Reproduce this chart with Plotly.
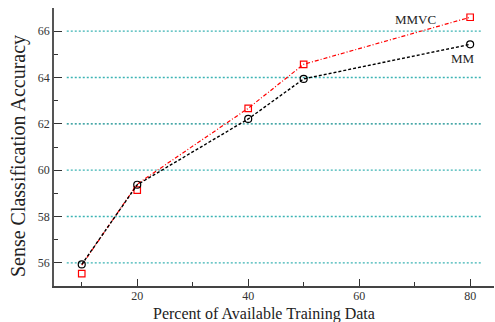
import plotly.graph_objects as go

x_pct = [10, 20, 40, 50, 80]
mmvc_marks = [55.53, 59.14, 62.67, 64.57, 66.6]
mmvc_line = [55.9, 59.4, 62.67, 64.57, 66.6]
mm_vals = [55.93, 59.37, 62.21, 63.94, 65.43]
grid_levels = [56, 58, 60, 62, 64, 66]
y_ticks = [56, 58, 60, 62, 64, 66]
x_ticks = [20, 40, 60, 80]

serif = "Liberation Serif, Times New Roman, serif"

fig = go.Figure()

for g in grid_levels:
    fig.add_shape(type="line", xref="x", yref="y", x0=7.3, x1=82.2, y0=g, y1=g,
                  line=dict(color="#0a8a8a" if g == 62 else "#3cb4b4", width=1.3, dash="2px,2px"),
                  layer="below")

fig.add_trace(go.Scatter(x=x_pct, y=mmvc_line, mode="lines",
                         line=dict(color="#ff0000", width=1.2, dash="4px,2px,1px,2px"),
                         showlegend=False, hoverinfo="skip"))
fig.add_trace(go.Scatter(x=x_pct, y=mmvc_marks, mode="markers",
                         marker=dict(symbol="square-open", color="#ff0000", size=6.5, line=dict(width=1.2)),
                         name="MMVC", showlegend=False))
fig.add_trace(go.Scatter(x=x_pct, y=mm_vals, mode="lines+markers",
                         line=dict(color="#000000", width=1.4, dash="3px,2px"),
                         marker=dict(symbol="circle-open", color="#000000", size=7, line=dict(width=1.2)),
                         name="MM", showlegend=False))

fig.add_annotation(x=70.2, y=66.51, text="MMVC", showarrow=False,
                   font=dict(family=serif, size=13, color="#222"))
fig.add_annotation(x=78.7, y=64.84, text="MM", showarrow=False,
                   font=dict(family=serif, size=13, color="#222"))

fig.add_annotation(xref="paper", yref="paper", x=-0.082, y=0.467, textangle=-90,
                   text="Sense Classification Accuracy", showarrow=False,
                   xanchor="center", yanchor="middle",
                   font=dict(family=serif, size=20, color="#222"))
fig.add_annotation(xref="paper", yref="paper", x=0.477, y=-0.0649,
                   text="Percent of Available Training Data", showarrow=False,
                   xanchor="center", yanchor="top", borderpad=0,
                   font=dict(family=serif, size=16, color="#222"))

fig.update_layout(
    width=495, height=322,
    margin=dict(l=54, r=1, t=8, b=36),
    paper_bgcolor="white", plot_bgcolor="white",
    font=dict(family=serif, size=12, color="#333"),
)
fig.update_xaxes(range=[5, 84.3], tickvals=x_ticks, ticks="inside", ticklen=7,
                 tickcolor="#333", showgrid=False, zeroline=False,
                 showline=True, linecolor="#444", linewidth=1.5, ticklabelstandoff=-2,
                 minor=dict(tickvals=[10, 30, 50, 70], ticks="inside", ticklen=4, tickcolor="#333"),
                 tickfont=dict(family=serif, size=12, color="#333"))
fig.update_yaxes(range=[55, 67], tickvals=y_ticks, ticks="inside", ticklen=8,
                 tickcolor="#333", showgrid=False, zeroline=False,
                 showline=True, linecolor="#555", linewidth=1.5,
                 minor=dict(tickvals=[57, 59, 61, 63, 65], ticks="inside", ticklen=4, tickcolor="#333"),
                 tickfont=dict(family=serif, size=12, color="#333"))

fig.write_html("out.html", config={"displayModeBar": False},
               post_script="document.body.style.margin='0';")
